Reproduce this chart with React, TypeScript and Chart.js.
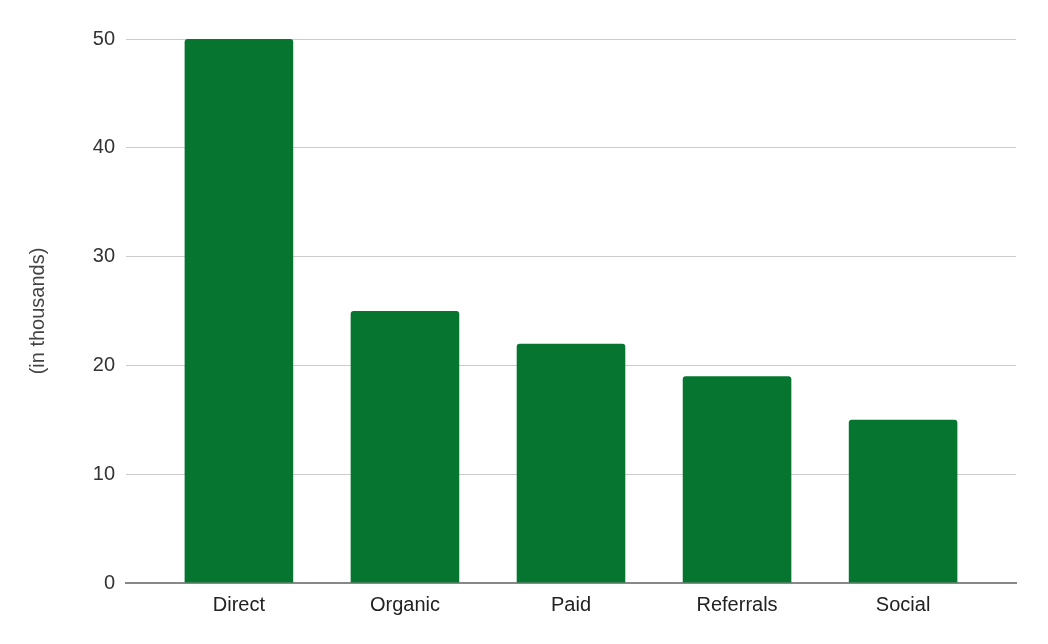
import { useEffect, useRef } from 'react'
import { Chart, registerables } from 'chart.js'

Chart.register(...registerables)

const categories = ['Direct', 'Organic', 'Paid', 'Referrals', 'Social']
const visits = [50, 25, 22, 19, 15]
const yTicks = [0, 10, 20, 30, 40, 50]

export default function App() {
  const chartRef = useRef<HTMLCanvasElement>(null)
  const chartInstance = useRef<Chart | null>(null)

  useEffect(() => {
    document.body.style.margin = '0'
    if (!chartRef.current) return
    if (chartInstance.current) chartInstance.current.destroy()

    const ctx = chartRef.current.getContext('2d')
    if (!ctx) return

    Chart.defaults.font.family = '"Liberation Sans", Arial, sans-serif'

    chartInstance.current = new Chart(ctx, {
      type: 'bar',
      data: {
        datasets: [
          {
            label: 'Visits',
            data: categories.map((_, i) => ({ x: i, y: visits[i] })),
            backgroundColor: '#067530',
            borderRadius: 3,
            borderSkipped: 'start',
            categoryPercentage: 1,
            barPercentage: 0.654
          }
        ]
      },
      options: {
        animation: false,
        responsive: true,
        maintainAspectRatio: false,
        layout: {
          padding: { top: 39, right: 32, bottom: 0, left: 22 }
        },
        plugins: {
          legend: { display: false },
          tooltip: { enabled: false }
        },
        scales: {
          x: {
            type: 'linear',
            offset: false,
            min: -0.68,
            max: 4.68,
            afterBuildTicks: (scale: any) => {
              scale.ticks = categories.map((_, i) => ({ value: i }))
            },
            afterFit: (scale: any) => {
              scale.height = 61
            },
            grid: { display: false, offset: false },
            border: { display: true, color: '#888888', width: 2 },
            ticks: {
              autoSkip: false,
              maxRotation: 0,
              padding: 2,
              color: '#222222',
              font: { size: 20 },
              callback: (value: any) => categories[value] ?? ''
            }
          },
          y: {
            min: 0,
            max: 50,
            afterBuildTicks: (scale: any) => {
              scale.ticks = yTicks.map(v => ({ value: v }))
            },
            afterFit: (scale: any) => {
              scale.width = 104
            },
            grid: {
              color: '#cccccc',
              lineWidth: 1,
              drawTicks: false
            },
            border: { display: false },
            ticks: {
              padding: 11,
              color: '#333333',
              font: { size: 20 }
            },
            title: {
              display: true,
              text: '(in thousands)',
              color: '#444444',
              font: { size: 20 }
            }
          }
        }
      }
    })

    return () => {
      if (chartInstance.current) {
        chartInstance.current.destroy()
        chartInstance.current = null
      }
    }
  }, [])

  return (
    <div style={{ position: 'relative', width: 1048, height: 644 }}>
      <canvas ref={chartRef} />
    </div>
  )
}
